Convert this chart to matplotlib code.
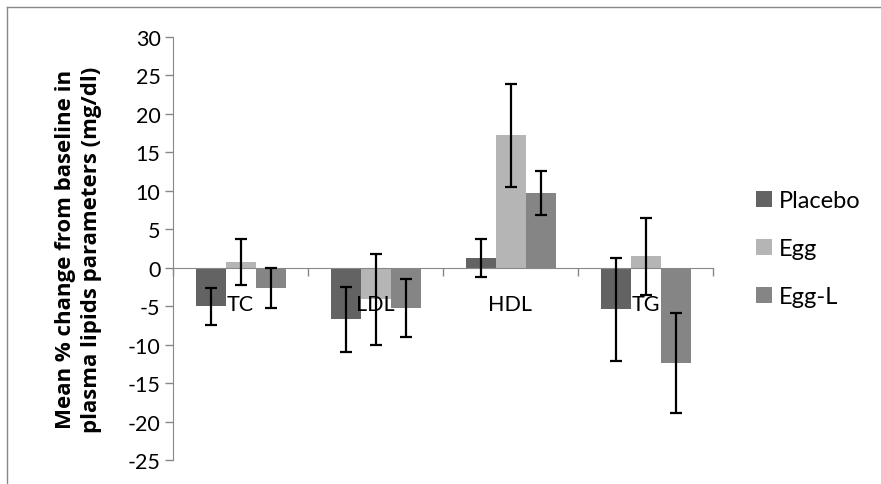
import numpy as np
from matplotlib import pyplot as plt
from matplotlib.lines import Line2D

plt.rcParams['font.family'] = ['Lato', 'DejaVu Sans']
plt.rcParams['axes.unicode_minus'] = False

categories = ['TC', 'LDL', 'HDL', 'TG']
groups = ['Placebo', 'Egg', 'Egg-L']
placebo = [-5.0, -6.7, 1.3, -5.4]
egg = [0.7, -4.1, 17.2, 1.5]
egg_l = [-2.7, -5.2, 9.7, -12.4]
placebo_err = [2.4, 4.2, 2.45, 6.7]
egg_err = [3.0, 5.9, 6.65, 5.0]
egg_l_err = [2.6, 3.75, 2.9, 6.45]

colors = ['#636363', '#b5b5b5', '#858585']
values = [placebo, egg, egg_l]
errors = [placebo_err, egg_err, egg_l_err]

fig = plt.figure(figsize=(8.81, 4.85), dpi=100)
ax = fig.add_axes([173/881, 24/485, 540/881, 423/485])

x = np.arange(len(categories))
w = 1/4.5
error_params = dict(elinewidth=1.6, capsize=4.3, capthick=1.6, ecolor='black', zorder=4)
for i in range(3):
    ax.bar(x + (i-1)*w, values[i], width=w, color=colors[i], yerr=errors[i],
           error_kw=error_params, label=groups[i], zorder=2)

ax.set_xlim(-0.5, 3.5)
ax.set_ylim(-25, 30)
ax.set_yticks(range(-25, 31, 5))
ax.set_xticks(np.arange(-0.5, 4, 1))
ax.set_xticklabels([])
ax.tick_params(axis='x', which='major', length=6, color='#888888', width=1)
ax.tick_params(axis='y', length=6, color='#888888', width=1, labelsize=15.5, pad=3)

# category labels sit just under the zero line, over the bars
for xi, c in zip(x, categories):
    ax.text(xi, -5.55, c, ha='center', va='baseline', fontsize=15.5, zorder=5)

for s in ['top', 'right']:
    ax.spines[s].set_visible(False)
ax.spines['bottom'].set_position(('data', 0))
ax.spines['bottom'].set_color('#888888')
ax.spines['left'].set_color('#888888')

ax.set_ylabel('Mean % change from baseline in\nplasma lipids parameters (mg/dl)',
              fontsize=16, fontweight='bold', linespacing=1.3,
              family=['Open Sans', 'DejaVu Sans'])
ax.yaxis.set_label_coords(-0.1315, 0.5)

ax.legend(loc='center left', bbox_to_anchor=(0.0796 + 1, 0.5), frameon=False,
          fontsize=17, handlelength=0.66, handleheight=0.66, labelspacing=1.15,
          handletextpad=0.3, borderpad=0, borderaxespad=0)

# chart area border
fig.add_artist(Line2D([7/881, 1], [1-8/485, 1-8/485], color='#888888', lw=1))
fig.add_artist(Line2D([7/881, 7/881], [0, 1-8/485], color='#888888', lw=1))

plt.savefig('out.png', dpi=100)
